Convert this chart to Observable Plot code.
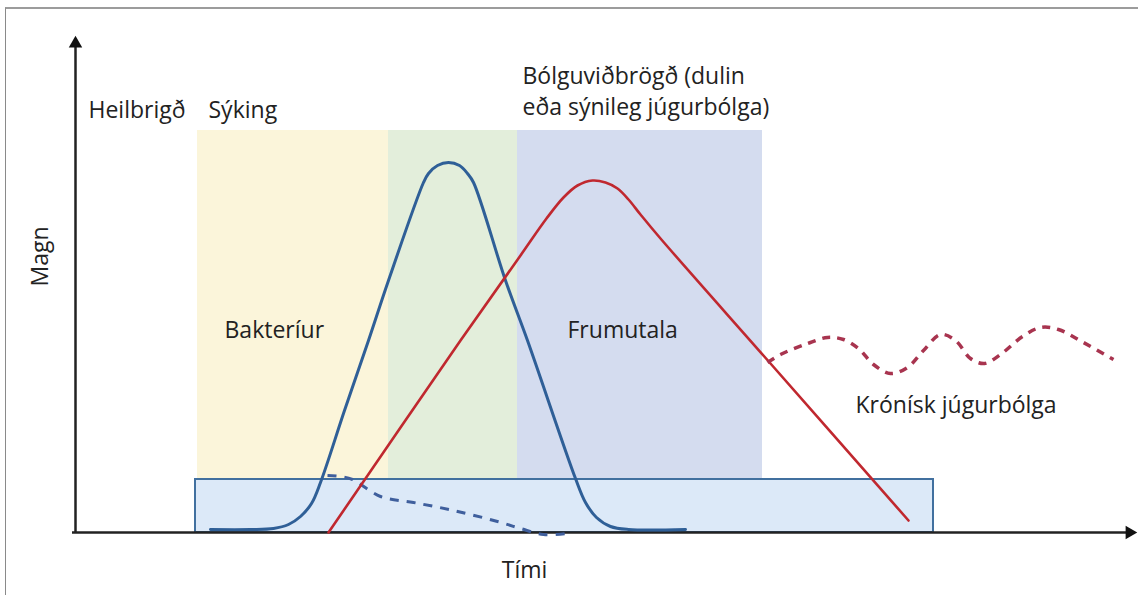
<!DOCTYPE html>
<html><head><meta charset="utf-8">
<script src="https://cdn.jsdelivr.net/npm/d3@7"></script>
<script src="https://cdn.jsdelivr.net/npm/@observablehq/plot@0.6"></script>
<style>
html,body{margin:0;padding:0;background:#fff;}
#wrap{position:relative;width:1138px;height:595px;overflow:hidden;}
#frame{position:absolute;left:5px;top:7px;right:-10px;bottom:-10px;border-left:1px solid #8a8a8a;border-top:2px solid #9c9c9c;pointer-events:none;}
svg{display:block;}
</style></head><body><div id="wrap"><div id="frame"></div></div>
<script>
// Conceptual chart: time (Tími) on x, magnitude (Magn) on y, arbitrary units.
const phaseNames = ["Sýking", "Bólga", "Frumutala"];
const phaseStart = [12.2, 31.3, 44.2];
const phaseEnd   = [31.3, 44.2, 68.7];
const phaseTop = 80.4;
const phaseBottom = 10.6;

const baseStart = 12.0, baseEnd = 85.8, baseLow = 0, baseHigh = 10.6;

// Bakteríur (blue)
const bactT = [13.5, 17.5, 19.8, 21.3, 22.5, 23.6, 24.5, 26.9, 29.3, 31.3, 34.8, 35.3, 36.2, 37.3, 38.4, 39.2, 39.8, 43.0, 45.2, 50.0, 51.0, 52.1, 53.5, 55.3, 61.0];
const bactM = [0.6, 0.6, 0.8, 1.6, 3.2, 5.8, 10.0, 24.4, 38.4, 50.4, 70.0, 71.8, 73.4, 74.0, 73.4, 71.8, 70.0, 50.4, 38.4, 10.8, 6.0, 3.0, 1.2, 0.6, 0.6];

// Frumutala (red)
const cellT = [25.3, 38.5, 44.5, 47.1, 48.8, 50.2, 51.7, 53.0, 54.2, 55.3, 56.5, 58.5, 69.5, 83.3];
const cellM = [0.0, 38.4, 55.4, 62.8, 67.0, 69.4, 70.4, 70.0, 68.8, 66.6, 63.6, 58.8, 33.8, 2.4];

// Bakteríur after cure (blue dashed)
const cureT = [25.2, 26.5, 27.7, 30.5, 33.8, 37.8, 42.2, 44.5, 46.8, 49.2];
const cureM = [11.4, 11.2, 10.6, 7.2, 6.0, 4.4, 2.2, 0.8, -0.4, -0.2];

// Krónísk júgurbólga (red dotted)
const chronT = [69.2, 70.5, 73.2, 75.2, 76.8, 78.3, 79.8, 81.5, 83.2, 84.8, 86.5, 88.0, 89.5, 90.9, 92.5, 94.7, 96.5, 98.3, 100.8, 103.8];
const chronM = [34.0, 35.6, 37.8, 39.0, 38.6, 36.8, 33.6, 31.8, 33.0, 36.4, 39.6, 38.4, 34.8, 33.8, 35.6, 39.2, 41.0, 40.6, 38.0, 34.6];

const labelText = ["Heilbrigð", "Sýking", "Bólguviðbrögð (dulin\neða sýnileg júgurbólga)", "Bakteríur", "Frumutala", "Krónísk júgurbólga"];
const labelT = [1.3, 13.3, 44.7, 14.9, 49.2, 78.0];
const labelM = [84.9, 84.9, 88.6, 40.9, 40.9, 25.9];

const xMax = 106.2, yMax = 99;

const phases = phaseNames.map((name, i) => ({name, t1: phaseStart[i], t2: phaseEnd[i], m1: phaseBottom, m2: phaseTop}));
const toRows = (T, M) => T.map((t, i) => ({t, m: M[i]}));
const bact = toRows(bactT, bactM);
const cell = toRows(cellT, cellM);
const cure = toRows(cureT, cureM);
const chron = toRows(chronT, chronM);
const labels = labelText.map((text, i) => ({text, t: labelT[i], m: labelM[i]}));

const font = "'Open Sans', 'DejaVu Sans', sans-serif";
const fs = 23;

const chart = Plot.plot({
  width: 1138,
  height: 595,
  marginTop: 0, marginRight: 0, marginBottom: 0, marginLeft: 0,
  style: {background: "transparent", fontFamily: font},
  x: {domain: [0, xMax], range: [75, 1137], axis: null},
  y: {domain: [0, yMax], range: [532, 37], axis: null},
  color: {domain: phaseNames, range: ["#fbf5da", "#e3eedb", "#d4dcef"]},
  marks: [
    Plot.rect(phases, {x1: "t1", x2: "t2", y1: "m1", y2: "m2", fill: "name"}),
    Plot.rect([{t1: baseStart, t2: baseEnd, m1: baseLow, m2: baseHigh}], {x1: "t1", x2: "t2", y1: "m1", y2: "m2", fill: "#dce9f8", stroke: "#41709f", strokeWidth: 2}),
    // axes
    Plot.ruleX([0], {y1: 0, y2: yMax - 1, stroke: "#222", strokeWidth: 2.5}),
    Plot.ruleY([0], {x1: -0.3, x2: xMax - 1, stroke: "#222", strokeWidth: 2.5}),
    Plot.dot([{t: 0, m: yMax - 1.2}], {x: "t", y: "m", symbol: "triangle", r: 5, fill: "#111", stroke: null}),
    Plot.dot([{t: xMax - 0.8, m: 0}], {x: "t", y: "m", symbol: "triangle", r: 5, fill: "#111", stroke: null, rotate: 90}),
    // curves
    Plot.line(cure, {x: "t", y: "m", stroke: "#3f5f9d", strokeWidth: 3, strokeDasharray: "9,8", strokeLinecap: "butt", curve: "catmull-rom"}),
    Plot.line(bact, {x: "t", y: "m", stroke: "#2f5f97", strokeWidth: 3, curve: "catmull-rom"}),
    Plot.line(cell, {x: "t", y: "m", stroke: "#c0282f", strokeWidth: 2.6, curve: "catmull-rom"}),
    Plot.line(chron, {x: "t", y: "m", stroke: "#a8344f", strokeWidth: 3.5, strokeDasharray: "8,7", strokeLinecap: "butt", curve: "catmull-rom"}),
    // texts
    Plot.text(labels, {x: "t", y: "m", text: "text", textAnchor: "start", lineHeight: 1.36, fontSize: fs, fill: "#222", fontFamily: font}),
    Plot.text(["Tími"], {x: 44.9, y: -7.7, text: d => d, fontSize: fs, fill: "#222", fontFamily: font}),
    Plot.text(["Magn"], {x: -3.5, y: 55.2, text: d => d, fontSize: fs, fill: "#222", fontFamily: font, rotate: -90})
  ]
});
document.getElementById("wrap").prepend(chart);
</script>
</body></html>
